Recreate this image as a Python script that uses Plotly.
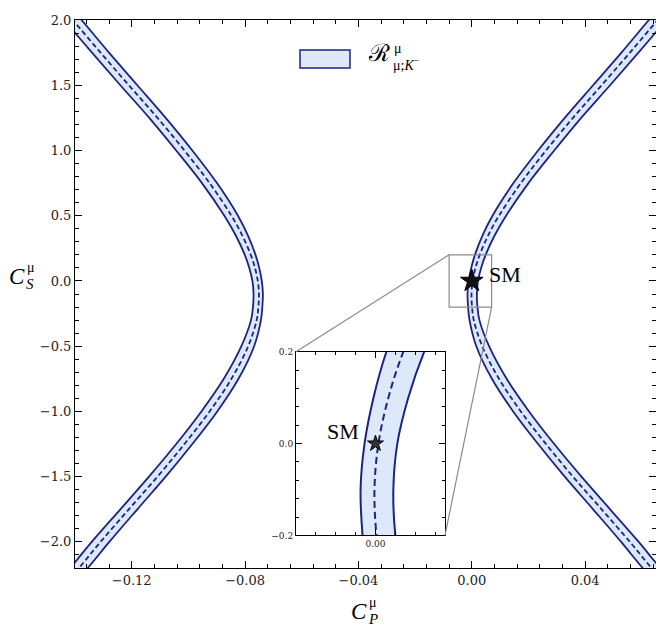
import plotly.graph_objects as go

c_s = [2.1, 2.0, 1.75, 1.5, 1.25, 1.0, 0.75, 0.5, 0.35, 0.2, 0.1, 0.0,
       -0.1, -0.2, -0.3, -0.5, -0.75, -1.0, -1.25, -1.5, -1.75, -2.0, -2.2, -2.3]

# right branch (through the SM point): C_P of inner edge, central value, outer edge
right_inner = [0.0666, 0.0625, 0.0528, 0.0428, 0.0328, 0.0234, 0.0147, 0.0073, 0.0038, 0.0011, -0.0002, -0.0011,
               -0.0015, -0.0013, -0.0008, 0.0016, 0.0071, 0.0146, 0.0234, 0.0328, 0.0428, 0.0527, 0.0603, 0.0645]
right_mid = [0.0697, 0.0656, 0.0558, 0.0458, 0.0357, 0.0262, 0.0173, 0.0096, 0.0058, 0.0028, 0.0013, 0.0003,
             -0.0001, 0.0001, 0.0007, 0.0037, 0.0096, 0.0173, 0.0262, 0.0357, 0.0458, 0.0558, 0.0634, 0.0676]
right_outer = [0.0728, 0.0687, 0.0588, 0.0488, 0.0386, 0.0291, 0.0200, 0.0121, 0.0081, 0.0049, 0.0033, 0.0022,
               0.0018, 0.0020, 0.0027, 0.0061, 0.0123, 0.0202, 0.0291, 0.0387, 0.0488, 0.0589, 0.0665, 0.0707]

# left branch
left_inner = [-0.1418, -0.1377, -0.1280, -0.1180, -0.1080, -0.0986, -0.0899, -0.0825, -0.0790, -0.0763, -0.0750,
              -0.0741, -0.0737, -0.0739, -0.0744, -0.0768, -0.0823, -0.0898, -0.0986, -0.1080, -0.1180, -0.1279,
              -0.1355, -0.1397]
left_mid = [-0.1449, -0.1408, -0.1310, -0.1210, -0.1109, -0.1014, -0.0925, -0.0848, -0.0810, -0.0780, -0.0765,
            -0.0755, -0.0751, -0.0753, -0.0759, -0.0789, -0.0848, -0.0925, -0.1014, -0.1109, -0.1210, -0.1310,
            -0.1386, -0.1428]
left_outer = [-0.1480, -0.1439, -0.1340, -0.1240, -0.1138, -0.1043, -0.0952, -0.0873, -0.0833, -0.0801, -0.0785,
              -0.0774, -0.0770, -0.0772, -0.0779, -0.0813, -0.0875, -0.0954, -0.1043, -0.1139, -0.1240, -0.1341,
              -0.1417, -0.1459]

sm_cp = [0.0]
sm_cs = [0.0]

x_range = [-0.14, 0.065]
y_range = [-2.2, 2.0]
inset_x_range = [-0.008, 0.007]
inset_y_range = [-0.2, 0.2]

NAVY = "#1b2580"
FILL = "#dde8fa"
GRAY = "#8c8c8c"
FONT = "Liberation Serif"
TICK_FONT = "DejaVu Serif"

# page is drawn inside the default 8px body margin
OFF = 8
W, H = 664 - OFF, 639 - OFF
PL, PR, PT, PB = 75, 656, 13, 568   # plot area edges in page pixels


def px(x):
    return (x - PL) / (PR - PL)


def py(y):
    return (PB - y) / (PB - PT)


def data_to_paper(x, y):
    return ((x - x_range[0]) / (x_range[1] - x_range[0]),
            (y - y_range[0]) / (y_range[1] - y_range[0]))


fig = go.Figure()


def add_band(inner, mid, outer, xa, ya, lw, dash):
    fig.add_trace(go.Scatter(x=outer + inner[::-1], y=c_s + c_s[::-1], fill="toself", fillcolor=FILL,
                             mode="lines", line=dict(width=0, shape="spline"), xaxis=xa, yaxis=ya,
                             hoverinfo="skip", showlegend=False))
    for edge in (outer, inner):
        fig.add_trace(go.Scatter(x=edge, y=c_s, mode="lines", line=dict(color=NAVY, width=lw, shape="spline"),
                                 xaxis=xa, yaxis=ya, showlegend=False))
    fig.add_trace(go.Scatter(x=mid, y=c_s, mode="lines",
                             line=dict(color=NAVY, width=lw, shape="spline", dash=dash),
                             xaxis=xa, yaxis=ya, showlegend=False))


add_band(left_inner, left_mid, left_outer, "x", "y", 1.8, "5px,3px")
add_band(right_inner, right_mid, right_outer, "x", "y", 1.8, "5px,3px")
add_band(right_inner, right_mid, right_outer, "x2", "y2", 2, "7px,4px")

fig.add_trace(go.Scatter(x=sm_cp, y=sm_cs, mode="markers",
                         marker=dict(symbol="star", size=17, color="#111111", line=dict(color="black", width=1)),
                         showlegend=False))
fig.add_trace(go.Scatter(x=sm_cp, y=sm_cs, mode="markers", xaxis="x2", yaxis="y2",
                         marker=dict(symbol="star", size=12, color="#333333", line=dict(color="black", width=1)),
                         showlegend=False))

axis_common = dict(showline=True, linecolor="black", linewidth=1, mirror="allticks", ticks="inside",
                   showgrid=False, zeroline=False, tickcolor="black")

fig.update_layout(
    width=W, height=H,
    margin=dict(l=PL - OFF, r=664 - PR, t=PT - OFF, b=639 - PB),
    paper_bgcolor="white", plot_bgcolor="white",
    font=dict(family=FONT, color="black"),
    showlegend=False,
    xaxis=dict(range=x_range, tick0=0, dtick=0.04, tickformat=".2f", ticklen=7,
               tickfont=dict(size=13, family=TICK_FONT, color="#222"),
               minor=dict(dtick=0.008, ticklen=4, ticks="inside", tickcolor="black", showgrid=False),
               **axis_common),
    yaxis=dict(range=y_range, tick0=0, dtick=0.5, tickformat=".1f", ticklen=7,
               tickfont=dict(size=13, family=TICK_FONT, color="#222"),
               minor=dict(dtick=0.1, ticklen=4, ticks="inside", tickcolor="black", showgrid=False),
               **axis_common),
    xaxis2=dict(domain=[px(296), px(445)], anchor="y2", range=inset_x_range, tickvals=[0.0], ticktext=["0.00"],
                ticklen=6, tickfont=dict(size=9, family=TICK_FONT, color="#222"),
                minor=dict(dtick=0.002, ticklen=3, ticks="inside", tickcolor="black", showgrid=False),
                **axis_common),
    yaxis2=dict(domain=[py(535), py(349)], anchor="x2", range=inset_y_range, tickvals=[-0.2, 0.0, 0.2],
                tickformat=".1f", ticklen=6, tickfont=dict(size=9, family=TICK_FONT, color="#222"),
                minor=dict(dtick=0.04, ticklen=3, ticks="inside", tickcolor="black", showgrid=False),
                **axis_common),
)

# zoom box and connector lines
fig.add_shape(type="rect", xref="x", yref="y", x0=inset_x_range[0], x1=inset_x_range[1],
              y0=inset_y_range[0], y1=inset_y_range[1], line=dict(color=GRAY, width=1.2), layer="above")
tl = data_to_paper(inset_x_range[0], inset_y_range[1])
br = data_to_paper(inset_x_range[1], inset_y_range[0])
fig.add_shape(type="line", xref="paper", yref="paper", x0=tl[0], y0=tl[1], x1=px(296), y1=py(349),
              line=dict(color=GRAY, width=1.2), layer="above")
fig.add_shape(type="line", xref="paper", yref="paper", x0=br[0], y0=br[1], x1=px(445), y1=py(535),
              line=dict(color=GRAY, width=1.2), layer="above")

# legend patch
fig.add_shape(type="rect", xref="paper", yref="paper", x0=px(300), x1=px(350), y0=py(61.5), y1=py(43.5),
              fillcolor=FILL, line=dict(color=NAVY, width=1.5), layer="above")


def label(text, x, y, size, xanchor="center"):
    fig.add_annotation(text=text, xref="paper", yref="paper", x=px(x), y=py(y), xanchor=xanchor,
                       yanchor="middle", showarrow=False, font=dict(size=size, family=FONT, color="black"))


label("ℛ", 379, 46, 24)
label("μ", 392, 42, 14, xanchor="left")
label("μ;<i>K</i><sup>−</sup>", 391, 58, 14, xanchor="left")

# axis titles
label("<i>C</i>", 16.5, 273, 23)
label("μ", 25, 264, 14, xanchor="left")
label("<i>S</i>", 23.5, 280, 15, xanchor="left")

label("<i>C</i>", 359, 612, 23)
label("μ", 367, 603, 14, xanchor="left")
label("<i>P</i>", 366, 620, 15, xanchor="left")

# SM labels
label("SM", 504.5, 270.5, 22)
label("SM", 343, 430, 22)

fig.write_html("out.html")
